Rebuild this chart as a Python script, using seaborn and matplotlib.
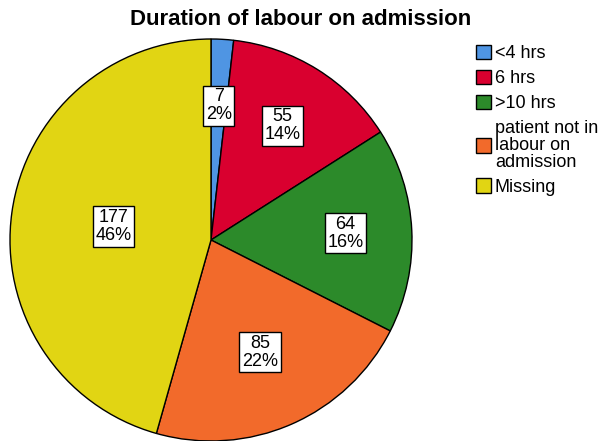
import numpy as np
import matplotlib
matplotlib.use("Agg")
import matplotlib.pyplot as plt
import seaborn as sns

sns.set_style("white")
plt.rcParams["font.family"] = ["Liberation Sans", "DejaVu Sans"]
plt.rcParams["text.color"] = "black"

categories = ["<4 hrs", "6 hrs", ">10 hrs", "patient not in\nlabour on\nadmission", "Missing"]
counts = [7, 55, 64, 85, 177]
pct_labels = ["2%", "14%", "16%", "22%", "46%"]
colors = ["#4f95e3", "#d9002f", "#2c8a2a", "#f26a2b", "#e1d513"]
label_dist = [0.67, 0.67, 0.67, 0.61, 0.49]

fig = plt.figure(figsize=(6.07, 4.41), dpi=100)
ax = fig.add_axes([0, 0, 1, 1])

cx, cy, r = 211, 201, 201
wedges, _ = ax.pie(counts, colors=colors, startangle=90, counterclock=False,
                   center=(cx, cy), radius=r, frame=True,
                   wedgeprops={"edgecolor": "black", "linewidth": 1})
ax.set_xlim(0, 607)
ax.set_ylim(0, 441)
ax.axis("off")

for w, n, p, d in zip(wedges, counts, pct_labels, label_dist):
    ang = np.deg2rad((w.theta1 + w.theta2) / 2)
    x = cx + d * r * np.cos(ang)
    y = cy + d * r * np.sin(ang)
    ax.text(x, y, f"{n}\n{p}", ha="center", va="center", fontsize=13,
            linespacing=1.05, color="black",
            bbox=dict(boxstyle="square,pad=0.15", fc="white", ec="black", lw=1))

fig.text(0.495, 0.955, "Duration of labour on admission", ha="center", va="center",
         fontsize=16, fontweight="bold", color="black")

leg = fig.legend(wedges, categories, loc="upper left", bbox_to_anchor=(0.772, 0.915),
                 frameon=False, fontsize=13, handlelength=0.85, handleheight=0.85,
                 handletextpad=0.2, labelspacing=0.42, borderaxespad=0)
for t in leg.get_texts():
    t.set_linespacing(1.0)

fig.savefig("out.png", dpi=100)
